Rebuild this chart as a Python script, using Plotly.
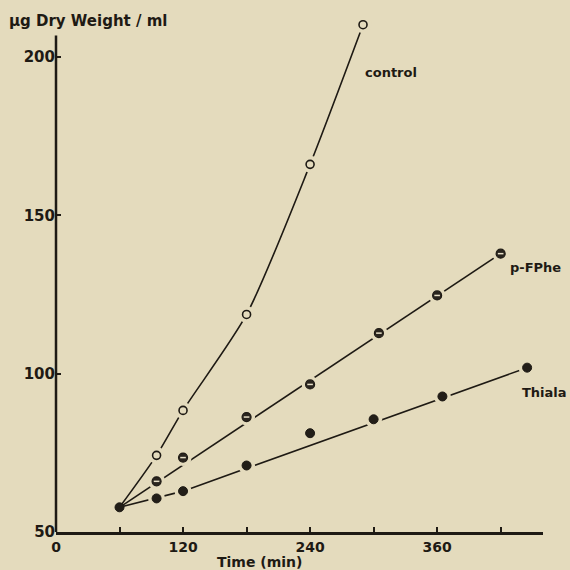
import plotly.graph_objects as go

# ---- data ----
time_control = [60, 95, 120, 180, 240, 290]
control = [57.8, 74.2, 88.4, 118.7, 166.1, 210.2]

time_pfphe = [60, 95, 120, 180, 240, 305, 360, 420]
pfphe = [57.8, 66.0, 73.5, 86.3, 96.6, 112.8, 124.7, 137.9]

time_thiala = [60, 95, 120, 180, 240, 300, 365, 445]
thiala = [57.8, 60.6, 62.9, 71.0, 81.2, 85.6, 92.8, 101.9]

# hand-drawn fitted lines (knots)
pfphe_fit_t = [60, 420]
pfphe_fit = [57.8, 137.9]
thiala_fit_t = [60, 120, 445]
thiala_fit = [57.8, 62.9, 101.9]

x_tickvals = [0, 120, 240, 360]
y_tickvals = [50, 100, 150, 200]
y_axis_top = 206.8

BG = "#e4dbbd"
INK = "#1e1a14"
FONT = "DejaVu Sans"

fig = go.Figure()

# lines
fig.add_trace(go.Scatter(x=time_control, y=control, mode="lines",
                         line=dict(color=INK, width=1.6, shape="spline", smoothing=0.7),
                         hoverinfo="skip"))
fig.add_trace(go.Scatter(x=pfphe_fit_t, y=pfphe_fit, mode="lines",
                         line=dict(color=INK, width=1.6), hoverinfo="skip"))
fig.add_trace(go.Scatter(x=thiala_fit_t, y=thiala_fit, mode="lines",
                         line=dict(color=INK, width=1.6), hoverinfo="skip"))

# halos (gaps in lines around markers)
for tx, ty in [(time_control[1:], control[1:]), (time_pfphe[1:], pfphe[1:]),
               (time_thiala[1:], thiala[1:])]:
    fig.add_trace(go.Scatter(x=tx, y=ty, mode="markers",
                             marker=dict(size=17, color=BG, line=dict(width=0)),
                             hoverinfo="skip"))

# markers
fig.add_trace(go.Scatter(x=time_control[1:], y=control[1:], mode="markers",
                         marker=dict(symbol="circle", size=8, color=BG,
                                     line=dict(color=INK, width=1.6))))
fig.add_trace(go.Scatter(x=time_pfphe[1:], y=pfphe[1:], mode="markers",
                         marker=dict(symbol="circle", size=9, color="#2a251e",
                                     line=dict(color=INK, width=1.2))))
fig.add_trace(go.Scatter(x=time_pfphe[1:], y=pfphe[1:], mode="markers",
                         marker=dict(symbol="line-ew", size=4,
                                     line=dict(color="#e8e0c8", width=1.5))))
fig.add_trace(go.Scatter(x=time_thiala, y=thiala, mode="markers",
                         marker=dict(symbol="circle", size=9, color="#221e18",
                                     line=dict(color=INK, width=1))))

fig.update_layout(
    width=570, height=570,
    margin=dict(l=56, r=27, t=19, b=38),
    paper_bgcolor=BG, plot_bgcolor=BG,
    showlegend=False,
    font=dict(family=FONT, color=INK, size=15),
)

fig.update_xaxes(
    range=[0, 460], showgrid=False, zeroline=False,
    showline=True, linewidth=2.5, linecolor=INK,
    tickmode="array", tickvals=x_tickvals, ticktext=[str(v) for v in x_tickvals],
    ticks="inside", ticklen=5, tickwidth=1.5, tickcolor=INK,
    minor=dict(tick0=0, dtick=60, ticks="inside", ticklen=5, tickwidth=1.5, tickcolor=INK),
    tickfont=dict(family=FONT, size=14, color=INK, weight="bold"),
)
fig.update_yaxes(
    range=[50, 212], showgrid=False, zeroline=False,
    showline=False,
    tickmode="array", tickvals=y_tickvals, ticktext=[str(v) for v in y_tickvals],
    ticks="inside", ticklen=5, tickwidth=1.5, tickcolor=INK,
    tickfont=dict(family=FONT, size=15, color=INK, weight="bold"),
)

# y axis line (stops below the top of the plotting area)
fig.add_shape(type="line", xref="x domain", yref="y", x0=0, x1=0, y0=50, y1=y_axis_top,
              line=dict(color=INK, width=2.5))

ann = dict(showarrow=False, font=dict(family=FONT, size=13, color=INK))
fig.add_annotation(text="<b>µg Dry Weight / ml</b>", xref="paper", yref="paper",
                   x=-49 / 487, y=(531.7 - 21) / 513, xanchor="left", yanchor="middle",
                   showarrow=False, font=dict(family=FONT, size=15, color=INK))
fig.add_annotation(text="<b>Time (min)</b>", xref="x", yref="paper", x=192, y=0,
                   yshift=-30, xanchor="center", yanchor="middle",
                   font=dict(family=FONT, size=14, color=INK), showarrow=False)
fig.add_annotation(text="<b>control</b>", xref="x", yref="y", x=290, y=195,
                   xanchor="left", yanchor="middle", **ann)
fig.add_annotation(text="<b>p-FPhe</b>", xref="x", yref="y", x=427, y=133.5,
                   xanchor="left", yanchor="middle", **ann)
fig.add_annotation(text="<b>Thiala</b>", xref="x", yref="y", x=438, y=94,
                   xanchor="left", yanchor="middle", **ann)

fig.write_html("out.html", post_script="document.body.style.margin='0px';",
               config={"displayModeBar": False})
